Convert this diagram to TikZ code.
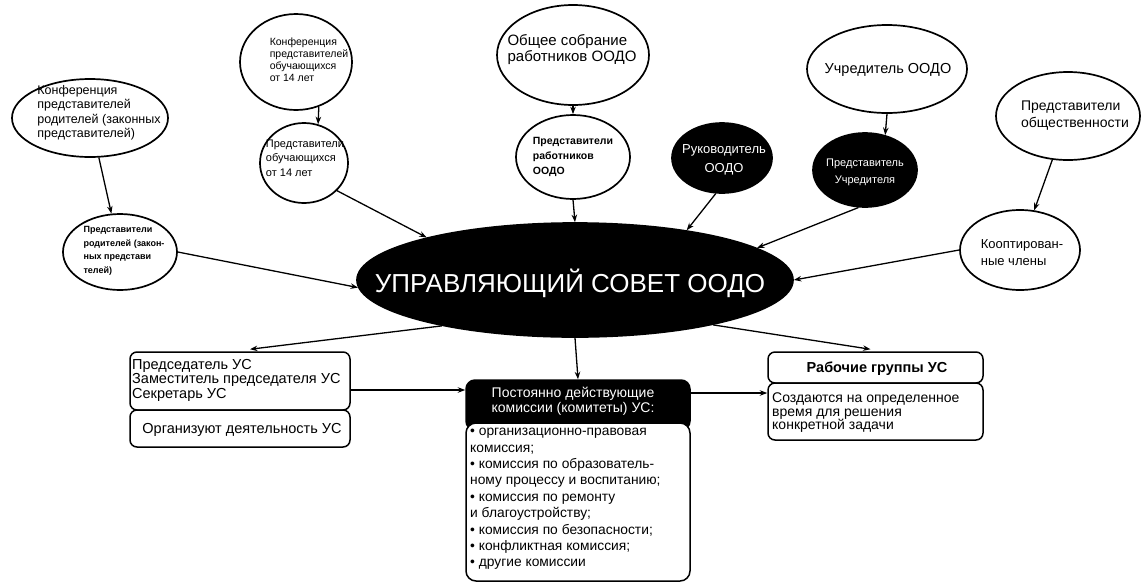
\documentclass[tikz,border=0pt]{standalone}
\usepackage{fontspec}
\setmainfont{Liberation Sans}
\usetikzlibrary{shapes.geometric,arrows.meta,calc}
\newcommand\myfs[2]{\fontsize{#1}{#2}\selectfont}
\begin{document}
\begin{tikzpicture}[x=1pt,y=-1pt,
  ell/.style={ellipse, draw=black, line width=1.7pt, fill=white, inner sep=0pt},
  bell/.style={ellipse, draw=black, line width=1.7pt, fill=black, inner sep=0pt},
  txt/.style={inner sep=0pt, align=left, text=black},
  ctxt/.style={inner sep=0pt, align=center, text=black},
  wtxt/.style={inner sep=0pt, align=center, text=white},
  arr/.style={-{Stealth[length=7.5pt,width=5.5pt]}, line width=1.3pt},
  box/.style={draw=black, line width=1.5pt, rounded corners=7pt, fill=white, inner sep=0pt},
  hbox/.style={draw=black, line width=1.5pt, rounded corners=9pt, fill=black, inner sep=0pt}]
\useasboundingbox[fill=white] (0,0) rectangle (1142,582);

% ellipses
\node[ell, minimum width=156pt, minimum height=78pt] (e1) at (90,118) {};
\node[txt, font=\myfs{12.5}{14.5}] (e1t) at (99,113) {Конференция\\представителей\\родителей (законных\\представителей)};

\node[ell, minimum width=114pt, minimum height=76pt] (e1b) at (120,252) {};
\node[txt, font=\bfseries\myfs{9}{13.5}] (e1bt) at (124,251) {Представители\\родителей (закон-\\ных представи\\телей)};

\node[ell, minimum width=112pt, minimum height=96pt] (e2) at (296,62) {};
\node[txt, font=\myfs{10.5}{12}] (e2t) at (309,60) {Конференция\\представителей\\обучающихся\\от 14 лет};

\node[ell, minimum width=88pt, minimum height=80pt] (e2b) at (304,163) {};
\node[txt, font=\myfs{11}{14.5}] (e2bt) at (305,158) {Представители\\обучающихся\\от 14 лет};

\node[ell, minimum width=152pt, minimum height=100pt] (e3) at (573,55) {};
\node[txt, font=\myfs{15}{16}] (e3t) at (572,50) {Общее собрание\\работников ООДО};

\node[ell, minimum width=114pt, minimum height=84pt] (e3b) at (573,157) {};
\node[txt, font=\bfseries\myfs{10.5}{15}] (e3bt) at (573,157) {Представители\\работников\\ООДО};

\node[ell, minimum width=160pt, minimum height=88pt] (e4) at (887,69) {};
\node[ctxt, font=\myfs{14.5}{16}] (e4t) at (888,70) {Учредитель ООДО};

\node[bell, minimum width=104pt, minimum height=74pt] (e4b) at (865,170) {};
\node[wtxt, font=\myfs{11}{17}] (e4bt) at (865,172) {Представитель\\Учредителя};

\node[bell, minimum width=100pt, minimum height=70pt] (e5) at (722,158) {};
\node[wtxt, font=\myfs{13}{19}] (e5t) at (724,160) {Руководитель\\ООДО};

\node[ell, minimum width=144pt, minimum height=88pt] (e6) at (1068,116) {};
\node[txt, font=\myfs{14}{17}] (e6t) at (1075,116) {Представители\\общественности};

\node[ell, minimum width=120pt, minimum height=80pt] (e6b) at (1020,250) {};
\node[txt, font=\myfs{13}{17}] (e6bt) at (1022,253) {Кооптирован-\\ные члены};

\node[bell, minimum width=436pt, minimum height=114pt] (ctr) at (575,280) {};
\node[wtxt, font=\myfs{26}{28}] (ctrt) at (570,283) {УПРАВЛЯЮЩИЙ СОВЕТ ООДО};

% boxes
\node[box, minimum width=220pt, minimum height=58pt] (lbox) at (240,381) {};
\node[txt, font=\myfs{14.5}{14.5}, anchor=west] (lboxt) at (132,380) {Председатель УС\\Заместитель председателя УС\\Секретарь УС};
\node[box, minimum width=220pt, minimum height=37pt] (lboxb) at (240,428.5) {};
\node[ctxt, font=\myfs{14.5}{15}] (lboxbt) at (242,430) {Организуют деятельность УС};

\node[hbox, minimum width=224pt, minimum height=50pt] (mhead) at (578,405) {};
\node[wtxt, font=\myfs{14}{15.5}] (mheadt) at (573,401) {Постоянно действующие\\комиссии (комитеты) УС:};
\node[box, rounded corners=10pt, minimum width=224pt, minimum height=158pt] (mlist) at (578,502) {};
\node[txt, font=\myfs{13.8}{16.4}, anchor=north west] (mlistt) at (470,428) {• организационно-правовая\\комиссия;\\• комиссия по образователь-\\ному процессу и воспитанию;\\• комиссия по ремонту\\и благоустройству;\\• комиссия по безопасности;\\• конфликтная комиссия;\\• другие комиссии};

\node[box, minimum width=215pt, minimum height=31pt] (rhead) at (875.5,367.5) {};
\node[ctxt, font=\bfseries\myfs{14.5}{15}] (rheadt) at (877,369) {Рабочие группы УС};
\node[box, minimum width=215pt, minimum height=57pt] (rlow) at (875.5,411.5) {};
\node[txt, font=\myfs{14}{13.5}, anchor=west] (rlowt) at (772,413) {Создаются на определенное\\время для решения\\конкретной задачи};

% connectors
\draw[arr] (e1) -- (e1b);
\draw[arr] (e1b.east) -- (ctr.182);
\draw[arr] (e2.-63) -- (e2b.70);
\draw[arr] (e2b.-40) -- (ctr.164);
\draw[arr] (e3.south) -- (e3b.north);
\draw[arr] (e3b.south) -- (ctr.north);
\draw[arr] (e4.south) -- (e4b.60);
\draw[arr] (e4b.-100) -- (ctr.10);
\draw[arr] (e5.-100) -- (ctr.24);
\draw[arr] (e6) -- (e6b);
\draw[arr] (e6b.west) -- (ctr.east);

\draw[arr] (ctr.199) -- ([xshift=10pt,yshift=2pt]lbox.north);
\draw[arr] ([yshift=-9pt]lbox.east) -- ([yshift=-9pt]lbox.east -| mhead.west);
\draw[arr] (ctr.south) -- (mhead.north);
\draw[arr] (ctr.-18) -- ([xshift=-5pt,yshift=2pt]rhead.north);
\draw[arr] ([yshift=12pt]mhead.east) -- ([yshift=12pt]mhead.east -| rlow.west);
\end{tikzpicture}
\end{document}
